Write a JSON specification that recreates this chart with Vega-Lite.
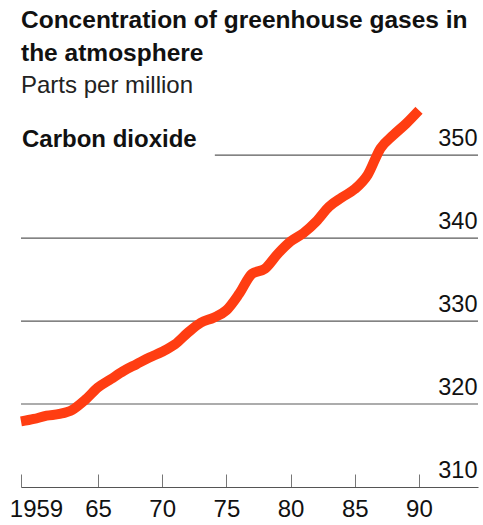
{
  "$schema": "https://vega.github.io/schema/vega-lite/v6.json",
  "width": 457,
  "height": 390,
  "autosize": "none",
  "padding": {"left": 21, "top": 97, "right": 5, "bottom": 38},
  "background": "white",
  "title": {
    "text": ["Concentration of greenhouse gases in", "the atmosphere"],
    "subtitle": "Parts per million",
    "anchor": "start",
    "frame": "group",
    "font": "Liberation Sans",
    "fontSize": 24.5,
    "fontWeight": "bold",
    "color": "#111111",
    "lineHeight": 33,
    "subtitleFont": "Liberation Sans",
    "subtitleFontSize": 24,
    "subtitleColor": "#222222",
    "subtitlePadding": 8,
    "offset": -9
  },
  "datasets": {
    "co2": [
      {"year": 1959, "ppm": 317.9},
      {"year": 1960, "ppm": 318.2},
      {"year": 1961, "ppm": 318.6},
      {"year": 1962, "ppm": 318.8},
      {"year": 1963, "ppm": 319.3},
      {"year": 1964, "ppm": 320.5},
      {"year": 1965, "ppm": 322.0},
      {"year": 1966, "ppm": 323.0},
      {"year": 1967, "ppm": 324.0},
      {"year": 1968, "ppm": 324.8},
      {"year": 1969, "ppm": 325.6},
      {"year": 1970, "ppm": 326.3},
      {"year": 1971, "ppm": 327.2},
      {"year": 1972, "ppm": 328.6},
      {"year": 1973, "ppm": 329.8},
      {"year": 1974, "ppm": 330.4},
      {"year": 1975, "ppm": 331.3},
      {"year": 1976, "ppm": 333.3},
      {"year": 1977, "ppm": 335.7},
      {"year": 1978, "ppm": 336.3},
      {"year": 1979, "ppm": 338.1},
      {"year": 1980, "ppm": 339.6},
      {"year": 1981, "ppm": 340.6},
      {"year": 1982, "ppm": 342.0},
      {"year": 1983, "ppm": 343.8},
      {"year": 1984, "ppm": 344.9},
      {"year": 1985, "ppm": 345.9},
      {"year": 1986, "ppm": 347.6},
      {"year": 1987, "ppm": 350.8},
      {"year": 1988, "ppm": 352.4},
      {"year": 1989, "ppm": 353.8},
      {"year": 1990, "ppm": 355.4}
    ],
    "grid": [
      {"ppm": 320, "start": 1959},
      {"ppm": 330, "start": 1959},
      {"ppm": 340, "start": 1959},
      {"ppm": 350, "start": 1974.1}
    ]
  },
  "layer": [
    {
      "data": {"name": "grid"},
      "mark": {"type": "rule", "color": "#5a5a5a", "strokeWidth": 1.2},
      "encoding": {
        "x": {"field": "start", "type": "quantitative"},
        "x2": {"datum": 1994.6},
        "y": {"field": "ppm", "type": "quantitative"}
      }
    },
    {
      "data": {"name": "co2"},
      "mark": {"type": "line", "color": "#ff3d12", "strokeWidth": 10, "interpolate": "monotone", "strokeCap": "butt"},
      "encoding": {
        "x": {
          "field": "year",
          "type": "quantitative",
          "scale": {"domain": [1959, 1994.6], "nice": false, "zero": false},
          "axis": {
            "title": null,
            "values": [1959, 1965, 1970, 1975, 1980, 1985, 1990],
            "labelExpr": "datum.value == 1959 ? '1959' : substring(toString(datum.value), 2, 4)",
            "labelOverlap": false,
            "labelFlush": false,
            "grid": false,
            "domainColor": "#555555",
            "domainWidth": 1.2,
            "tickColor": "#777777",
            "tickWidth": 1,
            "tickSize": -13,
            "labelFont": "Liberation Sans",
            "labelFontSize": 24,
            "labelColor": "#111111",
            "labelPadding": 23,
            "labelOffset": {"expr": "datum.value == 1959 ? 15 : 0"}
          }
        },
        "y": {
          "field": "ppm",
          "type": "quantitative",
          "scale": {"domain": [310, 357], "nice": false, "zero": false},
          "axis": {
            "orient": "right",
            "title": null,
            "values": [310, 320, 330, 340, 350],
            "grid": false,
            "domain": false,
            "ticks": false,
            "labelAlign": "right",
            "labelBaseline": "alphabetic",
            "labelPadding": -1,
            "labelOffset": -10,
            "labelFont": "Liberation Sans",
            "labelFontSize": 23.5,
            "labelColor": "#111111"
          }
        }
      }
    },
    {
      "data": {"values": [{"year": 1959, "ppm": 350, "label": "Carbon dioxide"}]},
      "mark": {"type": "text", "align": "left", "baseline": "alphabetic", "dx": 1, "dy": -8, "font": "Liberation Sans", "fontSize": 24, "fontWeight": "bold", "color": "#111111"},
      "encoding": {
        "x": {"field": "year", "type": "quantitative"},
        "y": {"field": "ppm", "type": "quantitative"},
        "text": {"field": "label"}
      }
    }
  ],
  "config": {"view": {"stroke": null}}
}
